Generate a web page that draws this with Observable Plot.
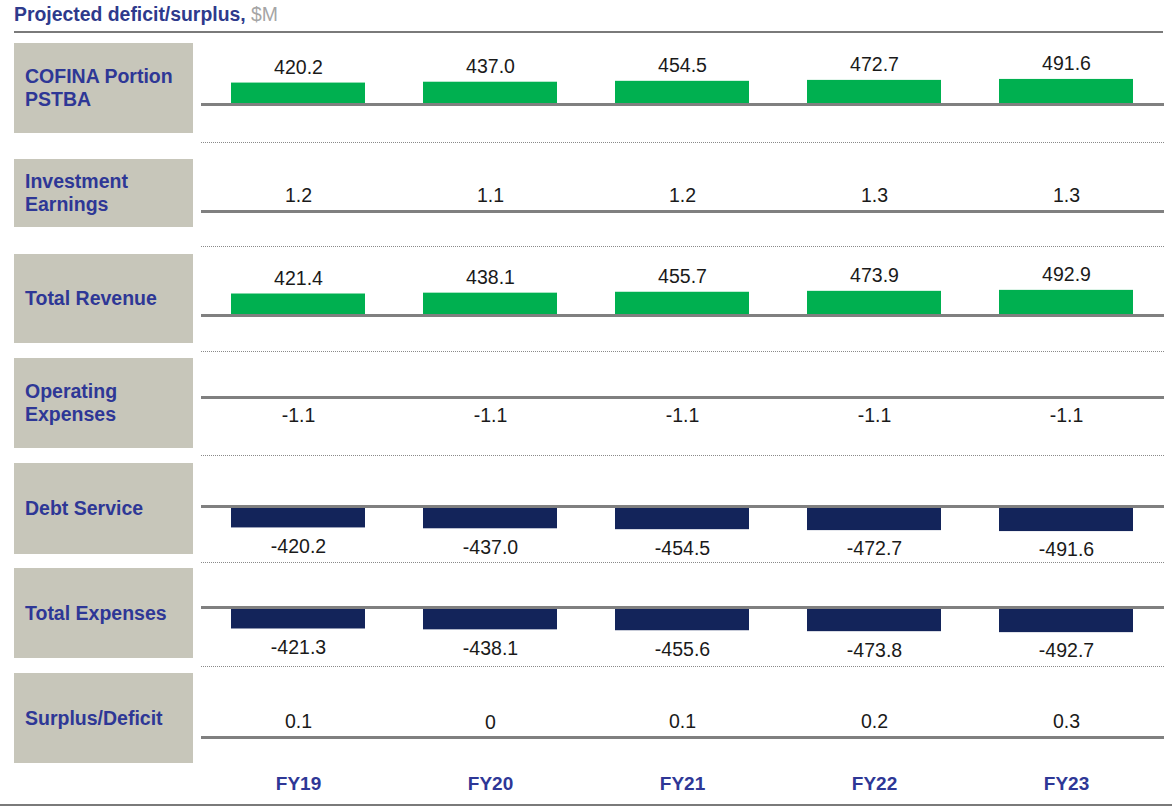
<!DOCTYPE html>
<html><head><meta charset="utf-8">
<script src="https://cdn.jsdelivr.net/npm/d3@7"></script>
<script src="https://cdn.jsdelivr.net/npm/@observablehq/plot@0.6"></script>
<style>
html,body{margin:0;padding:0;background:#fff;}
#chart{position:relative;width:1172px;height:807px;overflow:hidden;font-family:"Liberation Sans",Arial,sans-serif;}
.abs{position:absolute;}
.title{left:14px;top:3px;font-size:19.4px;font-weight:bold;color:#2e3a8c;white-space:nowrap;}
.title span{font-weight:normal;color:#a5a5a5;}
.box{left:14px;width:179px;background:#c7c6ba;display:flex;align-items:center;}
.box div{padding-left:11px;font-size:19.5px;font-weight:bold;color:#2e3796;line-height:23px;white-space:pre-line;}
.dot{left:201px;width:963px;height:0;border-top:1.5px dotted #8a8a8a;}
.hline{height:0;}
svg{display:block;}
</style></head><body><div id="chart"></div>
<script>
// ---- data ----
const years = ["FY19", "FY20", "FY21", "FY22", "FY23"];
const rowLabels = ["COFINA Portion\nPSTBA", "Investment\nEarnings", "Total Revenue", "Operating\nExpenses", "Debt Service", "Total Expenses", "Surplus/Deficit"];
const cofina = [420.2, 437.0, 454.5, 472.7, 491.6];
const investment = [1.2, 1.1, 1.2, 1.3, 1.3];
const totalRevenue = [421.4, 438.1, 455.7, 473.9, 492.9];
const operating = [-1.1, -1.1, -1.1, -1.1, -1.1];
const debtService = [-420.2, -437.0, -454.5, -472.7, -491.6];
const totalExpenses = [-421.3, -438.1, -455.6, -473.8, -492.7];
const surplus = [0.1, 0, 0.1, 0.2, 0.3];
const rowValues = [cofina, investment, totalRevenue, operating, debtService, totalExpenses, surplus];

// ---- layout ----
const boxTop = [43, 159, 254, 358, 463, 568, 673];
const boxBottom = [133, 227, 343, 448, 554, 658, 763];
const baselineY = [104, 211, 315, 397, 506, 607, 737];
const dottedY = [142, 246, 351, 455, 562, 666, null];
const pxPerUnit = 0.051;
const green = "#00b050", navy = "#13245a", labelNavy = "#2e3796";
const fmt = v => v === 0 ? "0" : v.toFixed(1);

const chart = document.getElementById("chart");
function addDiv(cls, style, html) {
  const d = document.createElement("div");
  d.className = "abs " + cls;
  Object.assign(d.style, style);
  if (html != null) d.innerHTML = html;
  chart.appendChild(d);
  return d;
}

addDiv("title", {}, "Projected deficit/surplus, <span>$M</span>");
addDiv("hline", {left: "14px", top: "31px", width: "1149px", borderTop: "2px solid #7a7a7a"});
addDiv("hline", {left: "0px", top: "804px", width: "1172px", borderTop: "2px solid #7a7a7a"});

rowLabels.forEach((label, i) => {
  const box = addDiv("box", {top: boxTop[i] + "px", height: (boxBottom[i] - boxTop[i]) + "px"});
  const t = document.createElement("div");
  t.textContent = label;
  box.appendChild(t);

  const last = i === rowLabels.length - 1;
  const plotTop = boxTop[i] - 12;
  const plotBottom = dottedY[i] ?? 807;
  const H = plotBottom - plotTop;
  const mb = last ? 40 : 0;
  const b = baselineY[i] - plotTop;
  const lo = -(H - mb - b) / pxPerUnit, hi = b / pxPerUnit;
  const data = years.map((y, j) => ({year: y, value: rowValues[i][j]}));
  const pos = data.filter(d => d.value >= 0), neg = data.filter(d => d.value < 0);

  const marks = [
    Plot.barY(pos, {x: "year", y: "value", fill: green}),
    Plot.barY(neg, {x: "year", y: "value", fill: navy}),
    Plot.ruleY([0], {stroke: "#808080", strokeWidth: 3}),
    Plot.text(pos, {x: "year", y: "value", text: d => fmt(d.value), lineAnchor: "bottom", dy: -9, fill: "#1a1a1a", fontSize: 19.5}),
    Plot.text(neg, {x: "year", y: "value", text: d => fmt(d.value), lineAnchor: "top", dy: 11, fill: "#1a1a1a", fontSize: 19.5})
  ];
  if (last) marks.push(Plot.axisX({tickSize: 0, tickPadding: 9, fontWeight: "bold", fill: labelNavy, fontSize: 19, label: null}));

  const svg = Plot.plot({
    width: 1172, height: H,
    marginLeft: 201, marginRight: 8, marginTop: 0, marginBottom: mb,
    style: {fontFamily: '"Liberation Sans", Arial, sans-serif', fontSize: "19px", background: "transparent", overflow: "visible"},
    x: {domain: years, paddingInner: 0.3, paddingOuter: 0.15, axis: last ? undefined : null, label: null},
    y: {domain: [lo, hi], axis: null},
    marks
  });
  const wrap = addDiv("", {left: "0px", top: plotTop + "px", width: "1172px", height: H + "px"});
  wrap.appendChild(svg);

  if (dottedY[i] != null) addDiv("dot", {top: dottedY[i] + "px"});
});
</script></body></html>
